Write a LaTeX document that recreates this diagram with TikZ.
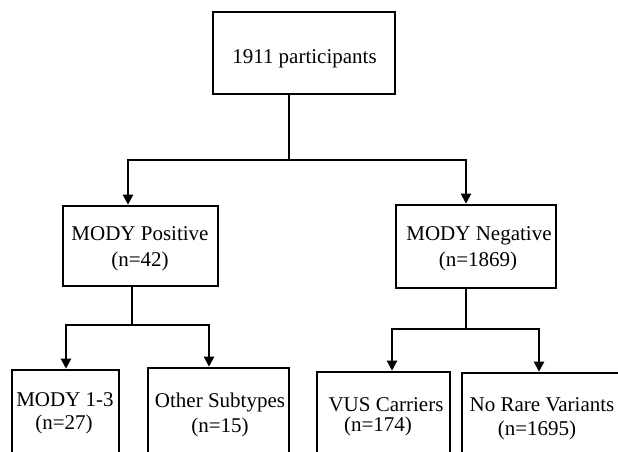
\documentclass[tikz,border=0pt]{standalone}
\usepackage{fontspec}
\setmainfont{Liberation Serif}
\usetikzlibrary{arrows.meta}
\tikzset{
  box/.style={draw=black, line width=2.6pt, rectangle, inner sep=0pt},
  conn/.style={draw=black, line width=2.2pt},
  arrowconn/.style={conn, -{Triangle[width=10pt,length=10pt]}},
  txt/.style={anchor=base, inner sep=0pt, font=\fontsize{21}{25}\selectfont}
}
\begin{document}
\begin{tikzpicture}[x=1pt,y=-1pt]
\useasboundingbox (0,0) rectangle (618,451);
\clip (0,0) rectangle (618,451);
\fill[white] (0,0) rectangle (618,451);
% boxes
\node[box, minimum width=182pt, minimum height=82pt] (top) at (304,53) {};
\node[box, minimum width=155pt, minimum height=80pt] (pos) at (140.5,246) {};
\node[box, minimum width=160pt, minimum height=83pt] (neg) at (476,246.5) {};
\node[box, minimum width=107pt, minimum height=120pt] (m13) at (65.5,430) {};
\node[box, minimum width=141pt, minimum height=120pt] (oth) at (218.5,428) {};
\node[box, minimum width=133pt, minimum height=120pt] (vus) at (383.5,432) {};
\node[box, minimum width=178pt, minimum height=120pt] (nrv) at (551,433) {};
% texts
\node[txt] (ttop) at (304.5,63) {1911 participants};
\node[txt] (tpos1) at (140,240) {MODY Positive};
\node[txt] (tpos2) at (140,266) {(n=42)};
\node[txt] (tneg1) at (479,240) {MODY Negative};
\node[txt] (tneg2) at (478,266) {(n=1869)};
\node[txt] (tm1) at (65,406) {MODY 1-3};
\node[txt] (tm2) at (64,429) {(n=27)};
\node[txt] (to1) at (220,407) {Other Subtypes};
\node[txt] (to2) at (220,432) {(n=15)};
\node[txt] (tv1) at (386,411) {VUS Carriers};
\node[txt] (tv2) at (378,431) {(n=174)};
\node[txt] (tn1) at (542,411) {No Rare Variants};
\node[txt] (tn2) at (537,435) {(n=1695)};
% connectors level 1
\coordinate (t1) at (289,160);
\coordinate (t1L) at (128,160);
\coordinate (t1R) at (466,160);
\draw[conn] (t1 |- top.south) -- (t1);
\draw[arrowconn] (t1) -- (t1L) -- (t1L |- pos.north);
\draw[arrowconn] (t1) -- (t1R) -- (t1R |- neg.north);
% connectors level 2 left
\coordinate (p1) at (132,325);
\coordinate (p1L) at (66,325);
\coordinate (p1R) at (209,325);
\draw[conn] (p1 |- pos.south) -- (p1);
\draw[arrowconn] (p1) -- (p1L) -- (p1L |- m13.north);
\draw[arrowconn] (p1) -- (p1R) -- (p1R |- oth.north);
% connectors level 2 right
\coordinate (n1) at (466,329);
\coordinate (n1L) at (392,329);
\coordinate (n1R) at (539,329);
\draw[conn] (n1 |- neg.south) -- (n1);
\draw[arrowconn] (n1) -- (n1L) -- (n1L |- vus.north);
\draw[arrowconn] (n1) -- (n1R) -- (n1R |- nrv.north);
\end{tikzpicture}
\end{document}
